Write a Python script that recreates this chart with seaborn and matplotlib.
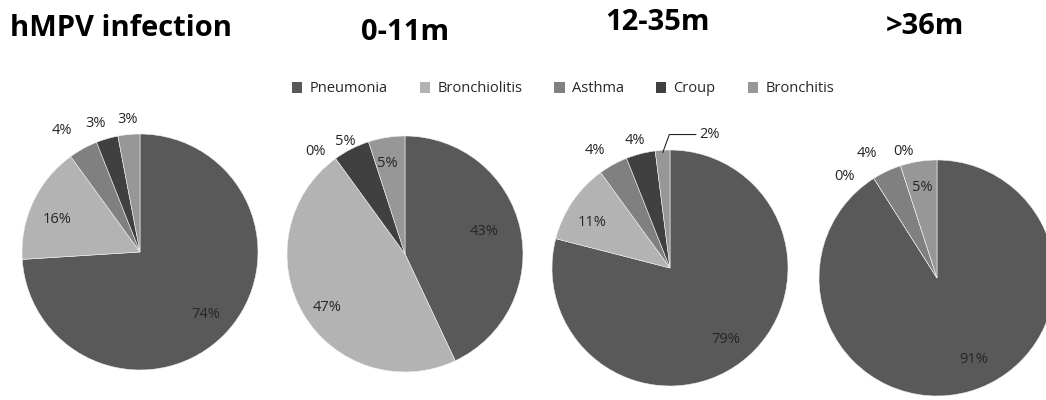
import numpy as np
import matplotlib
matplotlib.use("Agg")
import matplotlib.pyplot as plt
from matplotlib.patches import Patch
import seaborn as sns

# ---- data ----
categories = ["Pneumonia", "Bronchiolitis", "Asthma", "Croup", "Bronchitis"]
titles = ["hMPV infection", "0-11m", "12-35m", ">36m"]
values_all = [74, 16, 4, 3, 3]
values_0_11 = [43, 47, 0, 5, 5]
values_12_35 = [79, 11, 4, 4, 2]
values_36 = [91, 0, 4, 0, 5]
series = [values_all, values_0_11, values_12_35, values_36]

# ---- style ----
sns.set_theme(style="white")
plt.rcParams["font.family"] = ["Open Sans", "DejaVu Sans"]
colors = ["#595959", "#b3b3b3", "#808080", "#404040", "#979797"]

W, H = 1046, 400
fig = plt.figure(figsize=(W / 100, H / 100), dpi=100)

R_PX = 118
centers = [(140, 252), (405, 254), (670, 268), (937, 278)]
# per-pie label radius (fraction of pie radius) for each category
label_r = [
    [0.77, 0.75, 1.22, 1.15, 1.13],
    [0.70, 0.80, 1.15, 1.08, 0.78],
    [0.77, 0.76, 1.18, 1.12, 1.15],
    [0.76, 1.16, 1.21, 1.11, 0.78],
]
label_da = [
    [0, 4, 4, 3, 0],
    [3, 4, 5, 1, 2],
    [0, 4, 4, 1, -14],
    [8, 10, 4, -3, 0],
]
title_pos = [(10, 28, "left"), (405, 33, "center"), (657, 22, "center"), (925, 27, "center")]

box = 320
for i, (vals, (cx, cy)) in enumerate(zip(series, centers)):
    ax = fig.add_axes([(cx - box / 2) / W, 1 - (cy + box / 2) / H, box / W, box / H])
    lim = box / 2 / R_PX
    wedges, _ = ax.pie(vals, colors=colors, startangle=90, counterclock=False,
                       radius=1.0, wedgeprops=dict(edgecolor="#f2f2f2", linewidth=0.4))
    ax.set_xlim(-lim, lim)
    ax.set_ylim(-lim, lim)
    ax.set_aspect("equal")
    ax.axis("off")
    for j, w in enumerate(wedges):
        mid = np.deg2rad((w.theta1 + w.theta2) / 2 + label_da[i][j])
        r = label_r[i][j]
        x, y = r * np.cos(mid), r * np.sin(mid)
        txt = f"{vals[j]}%"
        if i == 2 and j == 4:
            m0 = np.deg2rad((w.theta1 + w.theta2) / 2)
            ax.annotate(txt, xy=(0.98 * np.cos(m0), 0.98 * np.sin(m0)),
                        xytext=(x + 0.04, y), ha="left", va="center",
                        fontsize=10.5, color="#262626",
                        arrowprops=dict(arrowstyle="-", color="#262626", lw=0.8,
                                        shrinkA=0, shrinkB=0,
                                        connectionstyle="angle,angleA=0,angleB=70,rad=0"))
        else:
            ax.text(x, y, txt, ha="center", va="center", fontsize=10.5, color="#262626")

for t, (tx, ty, ha) in zip(titles, title_pos):
    fig.text(tx / W, 1 - ty / H, t, ha=ha, va="center", fontsize=21,
             fontweight="bold", color="black", family=["Open Sans", "DejaVu Sans"])

handles = [Patch(facecolor=c, edgecolor="none") for c in colors]
fig.legend(handles, categories, loc="center", bbox_to_anchor=(563 / W, 1 - 89 / H),
           ncol=5, frameon=False, fontsize=10.5, handlelength=0.7, handleheight=0.7,
           handletextpad=0.5, columnspacing=2.2)

fig.savefig("out.png", dpi=100, facecolor="white")
